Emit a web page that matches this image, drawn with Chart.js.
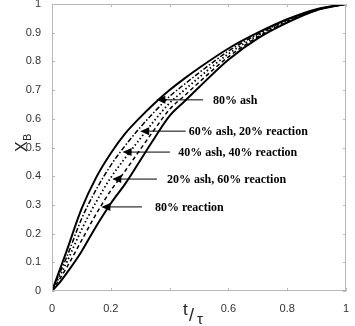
<!DOCTYPE html>
<html>
<head>
<meta charset="utf-8">
<script src="https://cdn.jsdelivr.net/npm/chart.js@4.4.1/dist/chart.umd.min.js"></script>
<style>
  body { margin: 0; background: #fff; }
  #wrap { width: 355px; height: 326px; position: relative; }
</style>
</head>
<body>
<div id="wrap"><canvas id="conversionChart"></canvas></div>
<script>
// t/tau values shared by every curve
const tValues = [0, 0.025, 0.05, 0.1, 0.15, 0.2, 0.25, 0.3, 0.35, 0.4, 0.45, 0.5, 0.6, 0.7, 0.8, 0.9, 1];

// X_B, one list per curve
const ash80      = [0, 0.070, 0.140, 0.285, 0.395, 0.480, 0.550, 0.605, 0.655, 0.700, 0.740, 0.777, 0.845, 0.900, 0.947, 0.982, 1];
const ash60rx20  = [0, 0.060, 0.118, 0.250, 0.353, 0.438, 0.508, 0.570, 0.626, 0.678, 0.720, 0.760, 0.836, 0.895, 0.944, 0.981, 1];
const ash40rx40  = [0, 0.050, 0.100, 0.213, 0.310, 0.395, 0.465, 0.531, 0.596, 0.655, 0.700, 0.744, 0.826, 0.890, 0.941, 0.980, 1];
const ash20rx60  = [0, 0.040, 0.082, 0.175, 0.268, 0.350, 0.420, 0.493, 0.565, 0.633, 0.680, 0.727, 0.816, 0.885, 0.938, 0.979, 1];
const reaction80 = [0, 0.028, 0.062, 0.137, 0.225, 0.305, 0.375, 0.455, 0.535, 0.610, 0.660, 0.710, 0.806, 0.880, 0.935, 0.978, 1];

const xTickLabels = ['0', '0.2', '', '0.6', '0.8', '1'];
const yTickLabels = ['0', '0.1', '0.2', '0.3', '0.4', '0.5', '0.6', '0.7', '0.8', '0.9', '1'];

// annotation labels: text, arrow tip (t, X), line end t, text start t
const labelTexts = ['80% ash', '60% ash, 20% reaction', '40% ash, 40% reaction', '20% ash, 60% reaction', '80% reaction'];
const labelTipT  = [0.355, 0.300, 0.240, 0.205, 0.168];
const labelY     = [0.666, 0.557, 0.484, 0.390, 0.293];
const lineEndT   = [0.514, 0.455, 0.401, 0.357, 0.306];
const textStartT = [0.548, 0.465, 0.429, 0.391, 0.350];

function toPoints(ys) {
    return tValues.map((t, i) => ({ x: t, y: ys[i] }));
}

function curve(ys, width, dash) {
    return {
        data: toPoints(ys),
        borderColor: '#000',
        borderWidth: width,
        borderDash: dash,
        pointRadius: 0,
        fill: false,
        cubicInterpolationMode: 'monotone'
    };
}

const decorPlugin = {
    id: 'decor',
    afterDraw(chart) {
        const ctx = chart.ctx;
        const xs = chart.scales.x;
        const ys = chart.scales.y;
        const a = chart.chartArea;
        ctx.save();

        // frame
        ctx.strokeStyle = '#b8b8b8';
        ctx.lineWidth = 1;
        ctx.strokeRect(a.left + 0.5, a.top + 0.5, a.right - a.left - 1, a.bottom - a.top - 1);

        // inner tick marks on all four sides
        ctx.beginPath();
        xs.ticks.forEach(tk => {
            const px = Math.round(xs.getPixelForValue(tk.value)) + 0.5;
            ctx.moveTo(px, a.bottom); ctx.lineTo(px, a.bottom - 3);
            ctx.moveTo(px, a.top); ctx.lineTo(px, a.top + 3);
        });
        ys.ticks.forEach(tk => {
            const py = Math.round(ys.getPixelForValue(tk.value)) + 0.5;
            ctx.moveTo(a.left, py); ctx.lineTo(a.left + 3, py);
            ctx.moveTo(a.right, py); ctx.lineTo(a.right - 3, py);
        });
        ctx.stroke();

        // arrows and labels
        ctx.fillStyle = '#000';
        ctx.strokeStyle = '#000';
        ctx.font = 'bold 12px "Liberation Serif", "Times New Roman", serif';
        ctx.textBaseline = 'middle';
        labelTexts.forEach((txt, i) => {
            const tipX = xs.getPixelForValue(labelTipT[i]);
            const py = ys.getPixelForValue(labelY[i]);
            const endX = xs.getPixelForValue(lineEndT[i]);
            ctx.lineWidth = 1;
            ctx.beginPath();
            ctx.moveTo(tipX + 6, py);
            ctx.lineTo(endX, py);
            ctx.stroke();
            ctx.beginPath();
            ctx.moveTo(tipX, py);
            ctx.lineTo(tipX + 9, py - 4);
            ctx.lineTo(tipX + 9, py + 4);
            ctx.closePath();
            ctx.fill();
            ctx.fillText(txt, xs.getPixelForValue(textStartT[i]), py + 1);
        });

        // axis titles
        ctx.fillStyle = '#222';
        ctx.textBaseline = 'alphabetic';
        ctx.save();
        ctx.translate(27, 152);
        ctx.rotate(-Math.PI / 2);
        ctx.font = '16px "Liberation Sans", Arial, sans-serif';
        ctx.fillText('X', 0, 0);
        ctx.font = '11px "Liberation Sans", Arial, sans-serif';
        ctx.fillText('B', 11, 4);
        ctx.restore();

        ctx.font = '17px "Liberation Sans", Arial, sans-serif';
        ctx.fillText('t', 183, 315);
        ctx.font = '18px "Liberation Sans", Arial, sans-serif';
        ctx.fillText('/', 189, 321);
        ctx.font = '15px "Liberation Sans", Arial, sans-serif';
        ctx.fillText('τ', 197, 324);

        ctx.restore();
    }
};

new Chart(document.getElementById('conversionChart'), {
    type: 'line',
    data: {
        datasets: [
            curve(ash80, 2, []),
            curve(ash60rx20, 1.5, [5, 2, 1.5, 2]),
            curve(ash40rx40, 1.8, [1.5, 2.5]),
            curve(ash20rx60, 1.5, [4, 3]),
            curve(reaction80, 2, [])
        ]
    },
    options: {
        responsive: true,
        maintainAspectRatio: false,
        animation: false,
        layout: { padding: { top: 4, right: 9, left: 0, bottom: 0 } },
        plugins: {
            legend: { display: false },
            tooltip: { enabled: false }
        },
        scales: {
            x: {
                type: 'linear',
                min: 0,
                max: 1,
                grid: { display: false },
                border: { display: false },
                ticks: {
                    stepSize: 0.2,
                    padding: 3,
                    color: '#333',
                    font: { family: '"Liberation Sans", Arial, sans-serif', size: 11 },
                    maxRotation: 0,
                    callback: (v, i) => xTickLabels[i]
                },
                afterFit: s => { s.height = 35; s.paddingLeft = 0; s.paddingRight = 0; }
            },
            y: {
                type: 'linear',
                min: 0,
                max: 1,
                grid: { display: false },
                border: { display: false },
                ticks: {
                    stepSize: 0.1,
                    padding: 3,
                    color: '#333',
                    font: { family: '"Liberation Sans", Arial, sans-serif', size: 11 },
                    callback: (v, i) => yTickLabels[i]
                },
                afterFit: s => { s.width = 52; s.paddingTop = 0; s.paddingBottom = 0; }
            }
        }
    },
    plugins: [decorPlugin]
});
</script>
</body>
</html>
